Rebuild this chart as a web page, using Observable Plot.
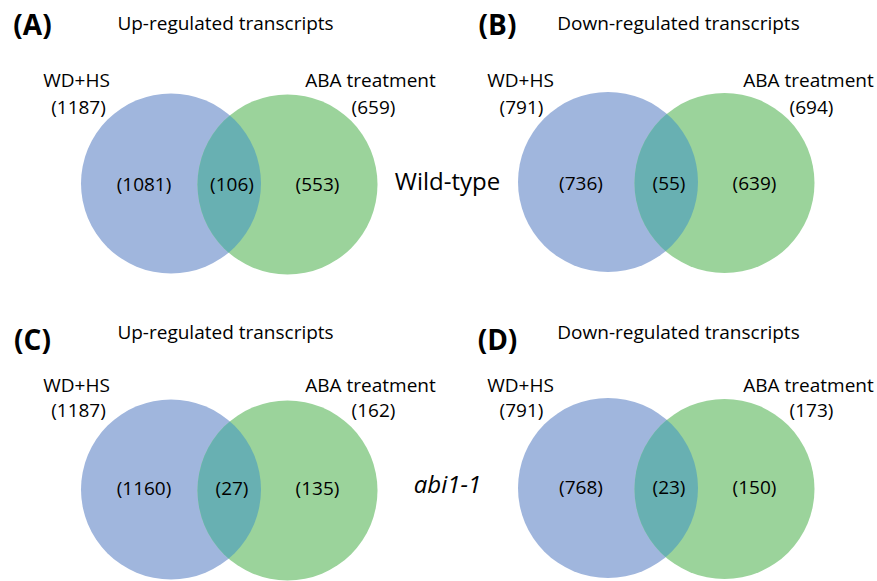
<!DOCTYPE html>
<html>
<head>
<meta charset="utf-8">
<script src="https://cdn.jsdelivr.net/npm/d3@7"></script>
<script src="https://cdn.jsdelivr.net/npm/@observablehq/plot@0.6"></script>
<style>
  html, body { margin: 0; padding: 0; background: #fff; }
  #chart { width: 877px; height: 581px; }
</style>
</head>
<body>
<div id="chart"></div>
<script>
// ---- Data ----
const panelLabels = ["(A)", "(B)", "(C)", "(D)"];
const panelTitles = ["Up-regulated transcripts", "Down-regulated transcripts", "Up-regulated transcripts", "Down-regulated transcripts"];
const setNames = ["WD+HS", "ABA treatment"];
const wdhsTotals = [1187, 791, 1187, 791];
const abaTotals = [659, 694, 162, 173];
const wdhsOnly = [1081, 736, 1160, 768];
const shared = [106, 55, 27, 23];
const abaOnly = [553, 639, 135, 150];
const genotypes = ["Wild-type", "abi1-1"];

// ---- Layout (pixel space) ----
const W = 877, H = 581;
const colX = [0, 437];
const rows = [
  {label: 26, title: 23, name: 80, total: 107, blue: 183, green: 184, count: 184},
  {label: 341, title: 332, name: 385, total: 410, blue: 489, green: 490, count: 488}
];
const labelX = [32, 497];
const titleX = [225, 678];
const R = 90;

const panels = panelLabels.map((p, i) => {
  const col = i % 2, row = Math.floor(i / 2);
  const ox = colX[col], L = rows[row];
  return {
    i, label: p, title: panelTitles[i],
    labelX: labelX[col], labelY: L.label,
    titleX: titleX[col], titleY: L.title,
    blueX: 170.5 + ox, blueY: L.blue + (col ? -1.5 : 0),
    greenX: 287 + ox, greenY: L.green + (col ? -1.5 : 0),
    nameY: L.name, totalY: L.total, countY: L.count + (col ? -1 : 0),
    wdX: (col ? 520 : 76), abaX: (col ? 808 : 370),
    wdTot: `(${wdhsTotals[i]})`, abaTot: `(${abaTotals[i]})`,
    wdTotX: (col ? 521 : 78), abaTotX: (col ? 811 : 373),
    c1: `(${wdhsOnly[i]})`, c2: `(${shared[i]})`, c3: `(${abaOnly[i]})`,
    c1X: 143.5 + ox, c2X: 231.5 + ox, c3X: 317 + ox
  };
});
const geno = genotypes.map((g, j) => ({g, x: 447, y: j ? 485 : 182, italic: j === 1}));

const font = "'Open Sans', Lato, sans-serif";
const fs = 19;

const svg = Plot.plot({
  width: W, height: H,
  margin: 0,
  x: {domain: [0, W], range: [0, W], axis: null},
  y: {domain: [0, H], range: [0, H], axis: null},
  style: {background: "#fff", fontFamily: font},
  marks: [
    Plot.dot(panels, {x: "blueX", y: "blueY", r: R, fill: "#A0B6DD", stroke: "none"}),
    Plot.dot(panels, {x: "greenX", y: "greenY", r: R, fill: "#9BD39B", stroke: "none"}),
    Plot.dot(panels, {x: "blueX", y: "blueY", r: R, fill: "#68B0B2", stroke: "none"}),
    Plot.text(panels, {x: "labelX", y: "labelY", text: "label", fontSize: 28, fontWeight: "bold", fontFamily: font, fill: "#000"}),
    Plot.text(panels, {x: "titleX", y: "titleY", text: "title", fontSize: fs, fontFamily: font, fill: "#000"}),
    Plot.text(panels, {x: "wdX", y: "nameY", text: () => setNames[0], fontSize: fs, fontFamily: font, fill: "#000"}),
    Plot.text(panels, {x: "abaX", y: "nameY", text: () => setNames[1], fontSize: fs, fontFamily: font, fill: "#000"}),
    Plot.text(panels, {x: "wdTotX", y: "totalY", text: "wdTot", fontSize: fs, fontFamily: font, fill: "#000"}),
    Plot.text(panels, {x: "abaTotX", y: "totalY", text: "abaTot", fontSize: fs, fontFamily: font, fill: "#000"}),
    Plot.text(panels, {x: "c1X", y: "countY", text: "c1", fontSize: fs, fontFamily: font, fill: "#000"}),
    Plot.text(panels, {x: "c2X", y: "countY", text: "c2", fontSize: fs, fontFamily: font, fill: "#000"}),
    Plot.text(panels, {x: "c3X", y: "countY", text: "c3", fontSize: fs, fontFamily: font, fill: "#000"}),
    Plot.text(geno.filter(d => !d.italic), {x: "x", y: "y", text: "g", fontSize: 24, fontFamily: font, fill: "#000"}),
    Plot.text(geno.filter(d => d.italic), {x: "x", y: "y", text: "g", fontSize: 24, fontStyle: "italic", fontFamily: font, fill: "#000"})
  ]
});

// Clip the overlap circles (3rd dot layer) to the green circles (2nd) to form the lens
const ns = "http://www.w3.org/2000/svg";
const defs = document.createElementNS(ns, "defs");
svg.insertBefore(defs, svg.firstChild);
const dotGroups = Array.from(svg.children).filter(el => el.tagName.toLowerCase() === "g" && el.querySelector("circle"));
const greens = dotGroups[1] ? dotGroups[1].querySelectorAll("circle") : [];
const overlaps = dotGroups[2] ? dotGroups[2].querySelectorAll("circle") : [];
greens.forEach((c, k) => {
  const cp = document.createElementNS(ns, "clipPath");
  cp.setAttribute("id", "lens-" + k);
  const copy = c.cloneNode(false);
  cp.appendChild(copy);
  defs.appendChild(cp);
  if (overlaps[k]) overlaps[k].setAttribute("clip-path", `url(#lens-${k})`);
});

document.getElementById("chart").appendChild(svg);
</script>
</body>
</html>
